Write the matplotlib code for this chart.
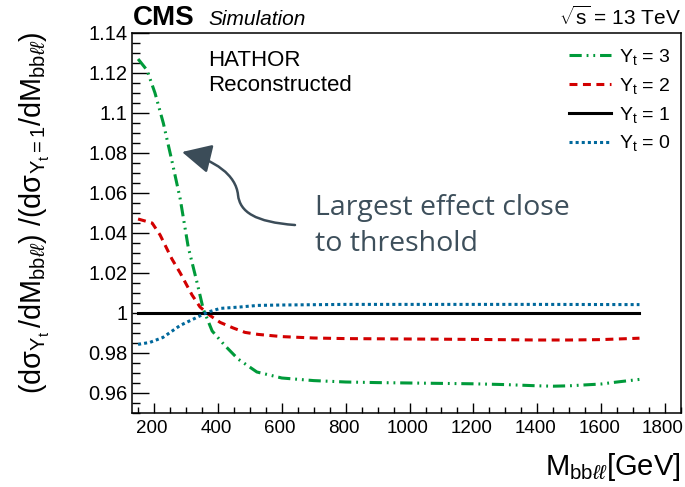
import numpy as np
import matplotlib
matplotlib.use("Agg")
import matplotlib.pyplot as plt
import matplotlib.transforms as mtransforms
from matplotlib.ticker import MultipleLocator, FuncFormatter
from matplotlib.patches import FancyArrowPatch
from matplotlib.path import Path

plt.rcParams['font.family'] = ['Liberation Sans', 'DejaVu Sans']
plt.rcParams['mathtext.fontset'] = 'custom'
plt.rcParams['mathtext.rm'] = 'Liberation Sans'
plt.rcParams['mathtext.it'] = 'Liberation Sans:italic'
plt.rcParams['mathtext.bf'] = 'Liberation Sans:bold'

# ---- data ----
m_y3 = [150, 178, 203, 229, 256, 282, 307, 335, 354, 382, 422, 463, 522, 600, 700,
        800, 900, 1000, 1100, 1200, 1300, 1400, 1450, 1500, 1600, 1650, 1720]
r_y3 = [1.127, 1.1214, 1.110, 1.095, 1.076, 1.057, 1.033, 1.015, 1.002, 0.991, 0.9837,
        0.977, 0.9705, 0.9675, 0.9662, 0.9655, 0.9652, 0.9650, 0.9648, 0.9646, 0.9642,
        0.9636, 0.9634, 0.9636, 0.9645, 0.9655, 0.9668]

m_y2 = [150, 194, 219, 256, 282, 319, 344, 375, 407, 448, 485, 526, 600, 700, 800,
        1000, 1200, 1400, 1500, 1600, 1720]
r_y2 = [1.047, 1.045, 1.039, 1.027, 1.020, 1.009, 1.003, 0.9988, 0.9953, 0.9925, 0.9903,
        0.9893, 0.9882, 0.9875, 0.9872, 0.9870, 0.9868, 0.9865, 0.9865, 0.9867, 0.9874]

m_y1 = [150, 1720]
r_y1 = [1.0, 1.0]

m_y0 = [150, 187, 228, 282, 334, 366, 407, 469, 525, 600, 800, 1000, 1400, 1720]
r_y0 = [0.9843, 0.9853, 0.9878, 0.9938, 0.9978, 1.0003, 1.0023, 1.003, 1.0038, 1.0040,
        1.0043, 1.0043, 1.0043, 1.0042]

labels = [r"$\mathrm{Y}_\mathrm{t}$ = 3", r"$\mathrm{Y}_\mathrm{t}$ = 2",
          r"$\mathrm{Y}_\mathrm{t}$ = 1", r"$\mathrm{Y}_\mathrm{t}$ = 0"]

fig = plt.figure(figsize=(6.85, 4.87), dpi=100)
ax = fig.add_axes([132/685, 1-413/487, 549/685, 380/487])

green = '#009a3a'
red = '#d20000'
blue = '#00689c'
lw = 2.2
ax.plot(m_y3, r_y3, color=green, lw=lw, dashes=(4, 1.6, 0.6, 1.6, 0.6, 1.6), label=labels[0])
ax.plot(m_y2, r_y2, color=red, lw=lw, dashes=(2.6, 1.8), label=labels[1])
ax.plot(m_y1, r_y1, color='black', lw=lw, label=labels[2])
ax.plot(m_y0, r_y0, color=blue, lw=lw, dashes=(1.0, 1.0), label=labels[3])

ax.set_xlim(131, 1850)
ax.set_ylim(0.95, 1.14)
ax.xaxis.set_major_locator(MultipleLocator(200))
ax.xaxis.set_minor_locator(MultipleLocator(50))
ax.yaxis.set_major_locator(MultipleLocator(0.02))
ax.yaxis.set_minor_locator(MultipleLocator(0.005))
ax.yaxis.set_major_formatter(FuncFormatter(lambda v, p: ('%.2f' % v).rstrip('0').rstrip('.')))
ax.xaxis.set_major_formatter(FuncFormatter(lambda v, p: '%d' % v))
ax.tick_params(axis='both', which='both', direction='in', top=False, right=False,
               width=1.0, colors='black')
ax.tick_params(axis='y', which='major', length=12, pad=3, labelsize=14.5)
ax.tick_params(axis='y', which='minor', length=6)
ax.tick_params(axis='x', which='major', length=7, pad=5, labelsize=13.5)
ax.tick_params(axis='x', which='minor', length=4.3)
for s in ax.spines.values():
    s.set_linewidth(1.1)

# shift x tick labels slightly left so the last one stays inside the figure
shift = mtransforms.ScaledTranslation(-2/100, 0, fig.dpi_scale_trans)
for lab in ax.get_xticklabels():
    lab.set_transform(lab.get_transform() + shift)

leg = ax.legend(loc='upper right', bbox_to_anchor=(0.982, 0.963), frameon=False,
                fontsize=14, handlelength=2.16, handletextpad=0.41, labelspacing=0.45,
                borderpad=0, borderaxespad=0)

ax.text(0.138, 0.955, "HATHOR\nReconstructed", transform=ax.transAxes, fontsize=16,
        va='top', ha='left', linespacing=1.25)

# annotation arrow
verts = [(0.2969, 0.4947), (0.2240, 0.5026), (0.1967, 0.5289), (0.1931, 0.5737),
         (0.1894, 0.6263), (0.1512, 0.6658), (0.0911, 0.6868)]
codes = [Path.MOVETO, Path.CURVE4, Path.CURVE4, Path.CURVE4, Path.CURVE4, Path.CURVE4, Path.CURVE4]
arrow = FancyArrowPatch(path=Path(verts, codes), transform=ax.transAxes,
                        arrowstyle='-|>,head_length=0.9,head_width=0.45',
                        mutation_scale=20, color='#3b4c58', lw=1.8)
ax.add_patch(arrow)
ax.text(0.333, 0.575, "Largest effect close\nto threshold", transform=ax.transAxes,
        fontsize=20.5, family='Open Sans', color='#3d4f5b', va='top', ha='left',
        linespacing=1.37)

fig.text(133/685, 1-25/487, "CMS", fontsize=20, fontweight='bold', ha='left', va='baseline')
fig.text(208/685, 1-25/487, "Simulation", fontsize=15, fontstyle='italic', ha='left', va='baseline')
fig.text(681/685, 1-25/487, r"$\sqrt{\mathrm{s}}$ = 13 TeV", fontsize=15, ha='right', va='baseline')

fig.text(681/685, 1-475/487, r"$\mathrm{M}_{\mathrm{bb}\ell\ell}$[GeV]", fontsize=21,
         ha='right', va='baseline')
fig.text(35/685, 1-212.5/487,
         r"$(\mathrm{d\sigma}_{\mathrm{Y}_\mathrm{t}}\,/\mathrm{dM}_{\mathrm{bb}\ell\ell})\ /(\mathrm{d\sigma}_{\mathrm{Y}_\mathrm{t}=1}/\mathrm{dM}_{\mathrm{bb}\ell\ell})$",
         fontsize=20.7, rotation=90, ha='center', va='center')

fig.savefig('out.png', dpi=100)
